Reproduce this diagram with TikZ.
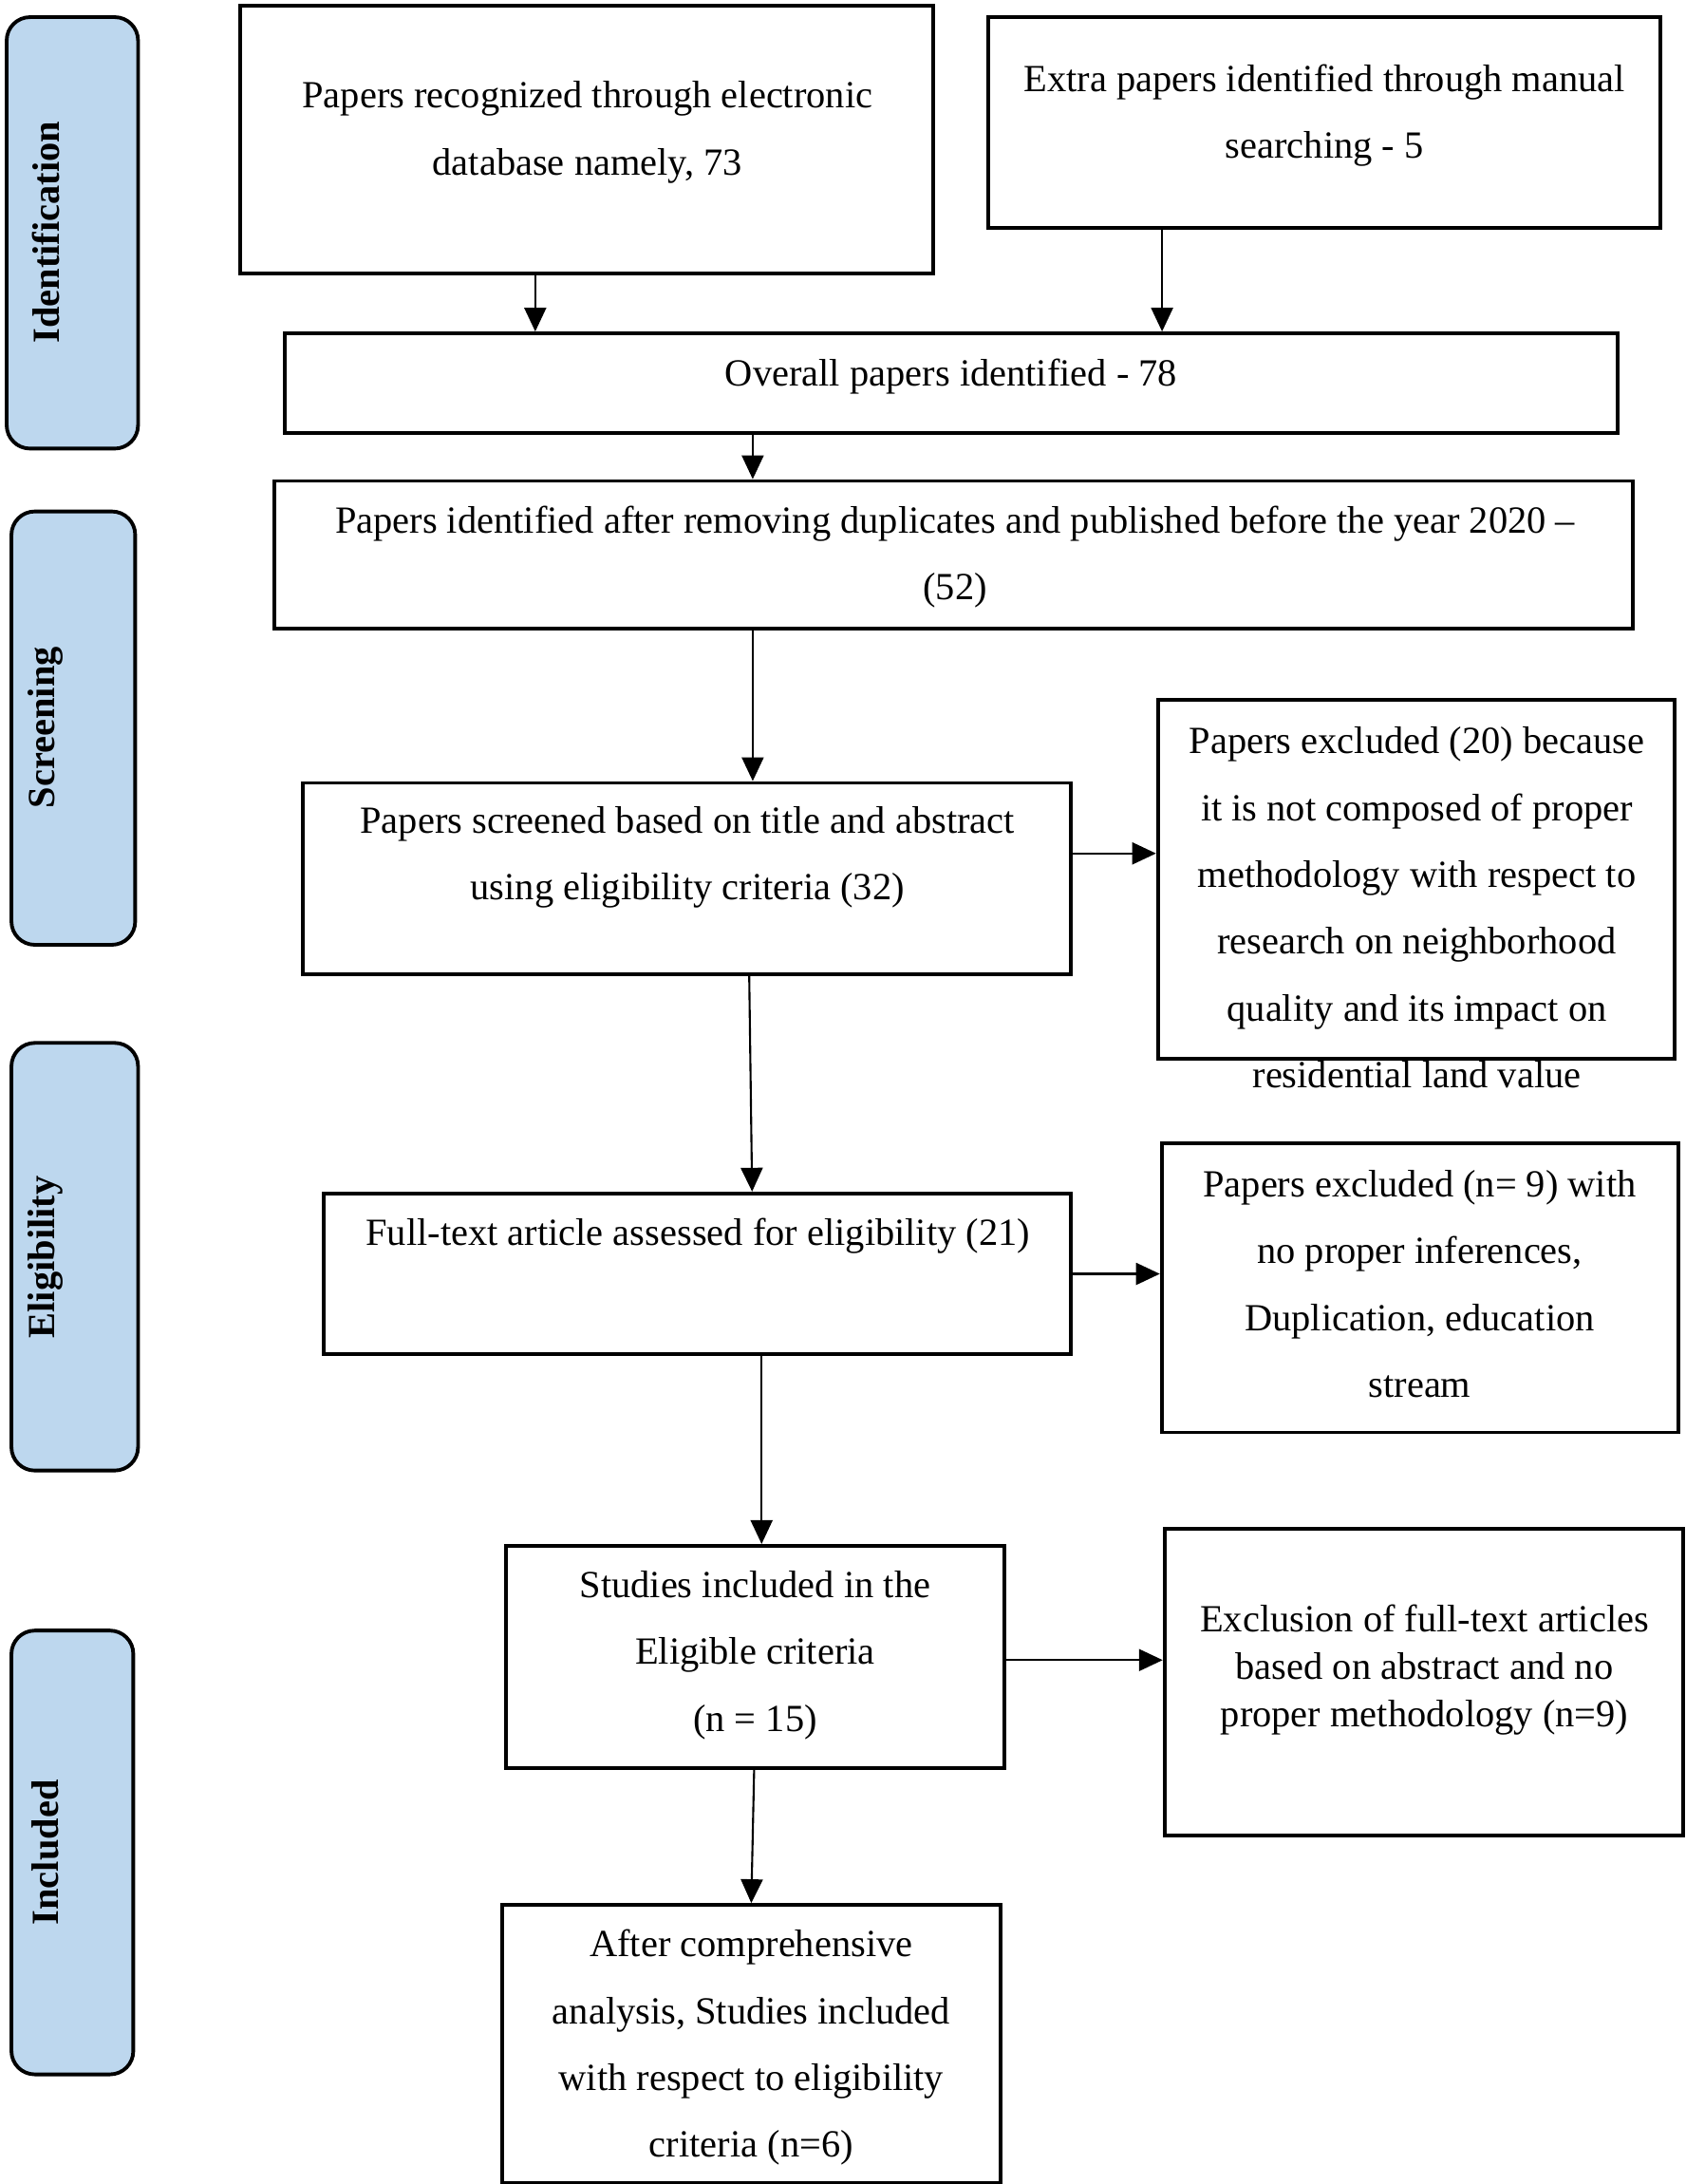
\documentclass[tikz,border=0pt]{standalone}
\usepackage{fontspec}
\setmainfont{Liberation Serif}
\usetikzlibrary{arrows.meta,fit}
\definecolor{sideblue}{HTML}{BDD7EE}
\begin{document}
\begin{tikzpicture}[x=0.01003cm,y=-0.01003cm,
 box/.style={draw, line width=1.1pt, inner sep=0pt, rectangle},
 side/.style={draw, line width=1.1pt, fill=sideblue, rounded corners=7pt, inner sep=0pt},
 txt/.style={align=center, font=\fontsize{11.5}{20}\selectfont, inner sep=0pt},
 sidetxt/.style={rotate=90, font=\fontsize{11.5}{14}\selectfont\bfseries, inner sep=0pt},
 arr/.style={line width=0.6pt, -{Triangle[length=2.5mm,width=2.3mm]}}]
\useasboundingbox (0,0) rectangle (1769.7,2293.1);

% side labels
\node[side, fit={(7,18) (145,471)}] (s1) {};
\node[side, fit={(12,537) (142,992)}] (s2) {};
\node[side, fit={(12,1095) (145,1544)}] (s3) {};
\node[side, fit={(12,1712) (140,2178)}] (s4) {};
\node[sidetxt] (st1) at (48,244) {Identification};
\node[sidetxt] (st2) at (48,764) {Screening};
\node[sidetxt] (st3) at (48,1320) {Eligibility};
\node[sidetxt] (st4) at (48,1945) {Included};

% boxes
\node[box, fit={(252,6) (980,287)}] (A) {};
\node[box, fit={(1038,18) (1744,239)}] (B) {};
\node[box, fit={(299,350) (1699,455)}] (C) {};
\node[box, fit={(288,505) (1715,660)}] (D) {};
\node[box, fit={(318,822) (1125,1023)}] (E) {};
\node[box, fit={(1216,735) (1759,1112)}] (F) {};
\node[box, fit={(340,1253) (1125,1422)}] (G) {};
\node[box, fit={(1220,1200) (1763,1504)}] (H) {};
\node[box, fit={(531,1623) (1055,1856)}] (I) {};
\node[box, fit={(1223,1605) (1768,1927)}] (J) {};
\node[box, fit={(527,2000) (1051,2292)}] (K) {};

% texts
\node[txt] (tA) at (617,139) {Papers recognized through electronic\\database namely, 73};
\node[txt] (tB) at (1391,121) {Extra papers identified through manual\\searching - 5};
\node[txt] (tC) at (999,395) {Overall papers identified - 78};
\node[txt] (tD) at (1003,585) {Papers identified after removing duplicates and published before the year 2020 --\\(52)};
\node[txt] (tE) at (722,900) {Papers screened based on title and abstract\\using eligibility criteria (32)};
\node[txt] (tF) at (1488,953) {Papers excluded (20) because\\it is not composed of proper\\methodology with respect to\\research on neighborhood\\quality and its impact on\\residential land value};
\node[txt] (tG) at (733,1298) {Full-text article assessed for eligibility (21)};
\node[txt] (tH) at (1491,1348) {Papers excluded (n= 9) with\\no proper inferences,\\Duplication, education\\stream};
\node[txt] (tI) at (793,1738) {Studies included in the\\Eligible criteria\\(n = 15)};
\node[txt, font=\fontsize{11.5}{14.2}\selectfont] (tJ) at (1496,1753) {Exclusion of full-text articles\\based on abstract and no\\proper methodology (n=9)};
\node[txt] (tK) at (789,2150) {After comprehensive\\analysis, Studies included\\with respect to eligibility\\criteria (n=6)};

% arrows
\draw[arr] ([xshift=-5.4mm]A.south) -- ([xshift=-5.4mm]A.south |- C.north);
\draw[arr] ([xshift=-17.1mm]B.south) -- ([xshift=-17.1mm]B.south |- C.north);
\draw[arr] ([xshift=-20.9mm]C.south) -- ([xshift=-20.9mm]C.south |- D.north);
\draw[arr] ([xshift=-21.15mm]D.south) -- ([xshift=-21.15mm]D.south |- E.north);
\draw[arr] ([yshift=2.65mm]E.east) -- ([yshift=2.65mm]E.east -| F.west);
\draw[arr] ([xshift=6.55mm]E.south) -- ([xshift=5.75mm]G.north);
\draw[arr] (G.east) -- (G.east -| H.west);
\draw[arr] ([xshift=6.75mm]G.south) -- ([xshift=6.75mm]G.south |- I.north);
\draw[arr] ([yshift=-0.35mm]I.east) -- ([yshift=-0.35mm]I.east -| J.west);
\draw[arr] ([xshift=-0.1mm]I.south) -- (K.north);
\end{tikzpicture}
\end{document}
